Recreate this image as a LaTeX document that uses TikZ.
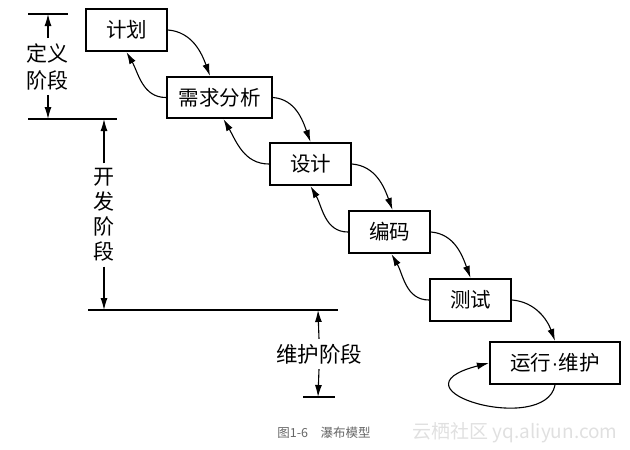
\documentclass[tikz,border=0pt]{standalone}
\usepackage{fontspec}
\setmainfont{Noto Sans CJK SC}
\newfontfamily\dotfont{Liberation Sans}
\usetikzlibrary{arrows.meta}
\tikzset{
  stage/.style={draw,line width=2.2pt,inner sep=0pt,minimum height=42pt,
    font=\fontsize{20.5}{20.5}\selectfont},
  flow/.style={-{Latex[length=12pt,width=7pt]},line width=1.1pt},
  dim/.style={-{Latex[length=12pt,width=7pt]},line width=1.1pt},
  phase/.style={align=center,inner sep=5pt},
}
\begin{document}
\begin{tikzpicture}[x=1pt,y=-1pt]
 \useasboundingbox (0,0) rectangle (630,450);
 % stages
 \node[stage,minimum width=81pt] (jh) at (126.5,30) {计划};
 \node[stage,minimum width=105pt,minimum height=41pt] (xq) at (219.5,97.5) {需求分析};
 \node[stage,minimum width=81pt] (sj) at (310.5,164) {设计};
 \node[stage,minimum width=81pt] (bm) at (389.5,232) {编码};
 \node[stage,minimum width=81pt] (cs) at (470.5,300) {测试};
 \node[stage,minimum width=130pt] (yw) at (555,363) {运行{\dotfont\kern.5pt·\kern.5pt}维护};
 % forward
 \draw[flow] (jh.east) to[out=-5,in=110] ([xshift=-9.5pt]xq.north);
 \draw[flow] (xq.east) to[out=-5,in=110] (sj.north);
 \draw[flow] (sj.east) to[out=-5,in=110] ([xshift=3pt]bm.north);
 \draw[flow] (bm.east) to[out=-5,in=110] (cs.north);
 \draw[flow] (cs.east) to[out=-5,in=110] (yw.north);
 % back
 \draw[flow] (xq.west) to[out=180,in=-60] (jh.south);
 \draw[flow] (sj.west) to[out=180,in=-60] ([xshift=4pt]xq.south);
 \draw[flow] (bm.west) to[out=180,in=-60] (sj.south);
 \draw[flow] (cs.west) to[out=180,in=-60] ([xshift=2pt]bm.south);
 \draw[flow] (yw.south) .. controls +(-10,51) and +(-105,27) .. (yw.west);
 % phases
 \draw[line width=1.1pt] (28,14) -- (68,14);
 \draw[line width=1.1pt] (28,119) -- (117,119);
 \draw[line width=1.1pt] (88,310) -- (338,310);
 \draw[line width=1.1pt] (303,397) -- (335,397);
 \coordinate (d1) at (48,14);
 \coordinate (d2) at (48,119);
 \coordinate (k1) at (104,119);
 \coordinate (k2) at (104,310);
 \coordinate (w1) at (318,310);
 \coordinate (w2) at (318,397);
 \node[phase,font=\fontsize{21}{27}\selectfont] (dy) at (48,66.5) {定义\\阶段};
 \node[phase,font=\fontsize{21}{25}\selectfont] (kf) at (104,215) {开\\发\\阶\\段};
 \node[phase,font=\fontsize{21.5}{21.5}\selectfont] (wh) at (319,354) {维护阶段};
 \draw[dim] (dy.north) -- (d1);
 \draw[dim] (dy.south) -- (d2);
 \draw[dim] (kf.north) -- (k1);
 \draw[dim] (kf.south) -- (k2);
 \draw[dim] (wh.north) -- (w1);
 \draw[dim] (wh.south) -- (w2);
 % caption
 \node[text=black!60,font=\fontsize{12.5}{12.5}\selectfont] (cap) at (324,433) {图1-6\quad 瀑布模型};
 \node[text=black!12,font=\fontsize{19}{19}\selectfont] (wm) at (515,433) {云栖社区 yq.aliyun.com};
\end{tikzpicture}
\end{document}
